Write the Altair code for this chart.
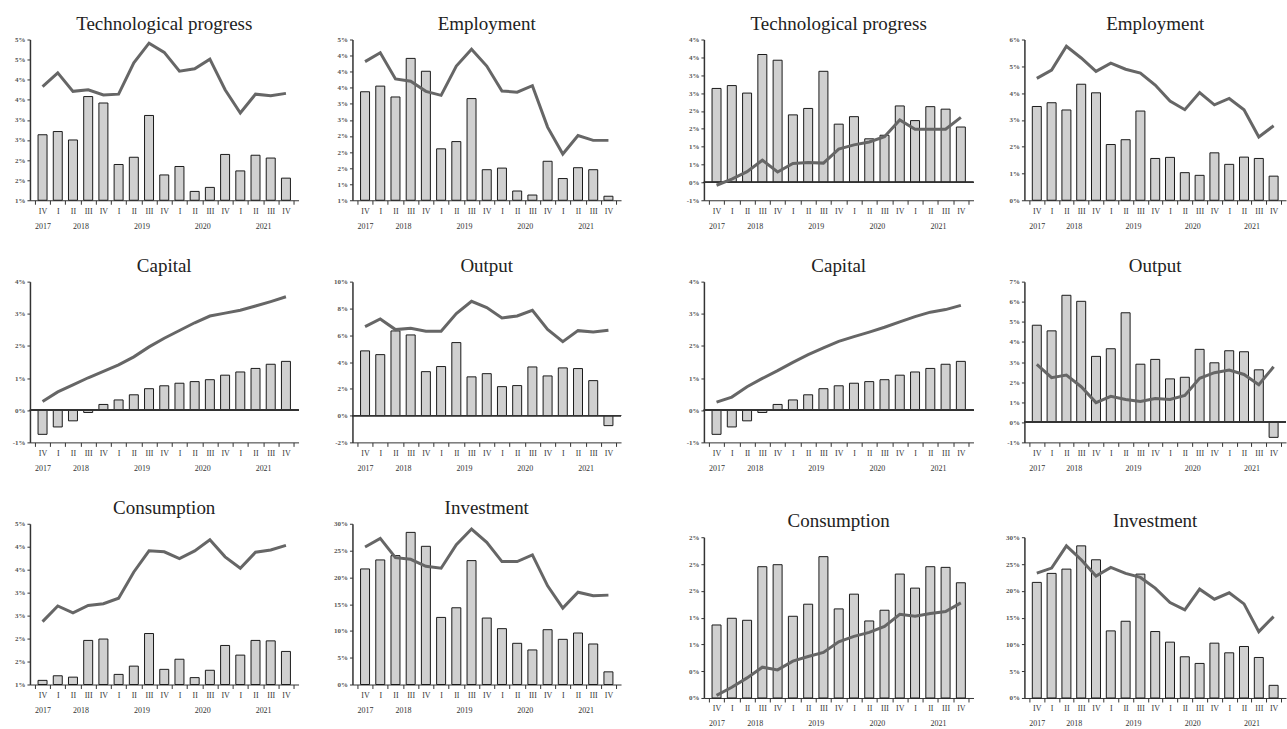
import json
import altair as alt
import pandas as pd

# ---------------- data ----------------
quarters = ["IV", "I", "II", "III", "IV", "I", "II", "III", "IV",
            "I", "II", "III", "IV", "I", "II", "III", "IV"]
years = ["2017"] + ["2018"] * 4 + ["2019"] * 4 + ["2020"] * 4 + ["2021"] * 4

tech_bars = [2.63, 2.71, 2.50, 3.58, 3.42, 1.89, 2.07, 3.11, 1.63, 1.84, 1.22, 1.32, 2.14, 1.73, 2.12, 2.05, 1.55]
tech_line_a = [3.83, 4.17, 3.71, 3.75, 3.62, 3.64, 4.42, 4.91, 4.68, 4.21, 4.27, 4.51, 3.75, 3.17, 3.64, 3.60, 3.66]
tech_line_b = [-0.08, 0.09, 0.30, 0.62, 0.29, 0.53, 0.56, 0.54, 0.93, 1.05, 1.13, 1.28, 1.75, 1.49, 1.49, 1.49, 1.82]

emp_bars = [3.50, 3.64, 3.37, 4.33, 4.01, 2.08, 2.26, 3.33, 1.56, 1.60, 1.03, 0.93, 1.77, 1.34, 1.61, 1.56, 0.90]
emp_line_a = [4.25, 4.47, 3.82, 3.76, 3.51, 3.41, 4.14, 4.56, 4.14, 3.52, 3.49, 3.65, 2.62, 1.95, 2.41, 2.29, 2.29]
emp_line_b = [4.55, 4.86, 5.75, 5.31, 4.81, 5.12, 4.89, 4.75, 4.30, 3.70, 3.38, 4.02, 3.56, 3.80, 3.38, 2.36, 2.78]

cap_bars = [-0.75, -0.52, -0.33, -0.07, 0.18, 0.32, 0.48, 0.67, 0.76, 0.84, 0.89, 0.95, 1.09, 1.19, 1.30, 1.43, 1.52]
cap_line_a = [0.27, 0.57, 0.79, 1.01, 1.21, 1.41, 1.66, 1.97, 2.24, 2.48, 2.72, 2.93, 3.02, 3.11, 3.24, 3.38, 3.53]
cap_line_b = [0.25, 0.41, 0.73, 0.99, 1.23, 1.49, 1.73, 1.94, 2.14, 2.29, 2.43, 2.58, 2.75, 2.91, 3.05, 3.13, 3.26]

out_bars = [4.83, 4.55, 6.32, 6.02, 3.28, 3.66, 5.45, 2.89, 3.13, 2.16, 2.24, 3.63, 2.96, 3.56, 3.51, 2.61, -0.75]
out_line_a = [6.64, 7.21, 6.42, 6.52, 6.29, 6.29, 7.61, 8.53, 8.06, 7.29, 7.44, 7.86, 6.44, 5.52, 6.34, 6.24, 6.37]
out_line_b = [2.88, 2.22, 2.35, 1.77, 0.98, 1.29, 1.13, 1.04, 1.18, 1.14, 1.34, 2.19, 2.47, 2.60, 2.38, 1.87, 2.76]

cons_bars = [1.09, 1.19, 1.16, 1.96, 1.99, 1.22, 1.40, 2.11, 1.33, 1.55, 1.15, 1.31, 1.85, 1.64, 1.96, 1.95, 1.72]
cons_line_a = [2.37, 2.71, 2.56, 2.72, 2.76, 2.88, 3.45, 3.91, 3.89, 3.74, 3.91, 4.15, 3.78, 3.53, 3.88, 3.93, 4.03]
cons_line_b = [0.04, 0.16, 0.30, 0.46, 0.42, 0.55, 0.62, 0.68, 0.84, 0.92, 0.98, 1.07, 1.25, 1.22, 1.26, 1.29, 1.42]

inv_bars = [21.57, 23.25, 24.05, 28.39, 25.79, 12.52, 14.32, 23.12, 12.40, 10.42, 7.69, 6.45, 10.23, 8.43, 9.61, 7.56, 2.36]
inv_line_a = [25.67, 27.28, 23.68, 23.37, 22.07, 21.70, 26.10, 29.01, 26.53, 22.94, 22.94, 24.18, 18.41, 14.26, 17.23, 16.55, 16.68]
inv_line_b = [23.31, 24.25, 28.38, 25.81, 22.75, 24.38, 23.25, 22.50, 20.50, 17.81, 16.44, 20.31, 18.44, 19.63, 17.56, 12.38, 15.19]

# y-axis tick values and their printed labels
tech_a_ticks = [1.0, 1.5, 2.0, 2.5, 3.0, 3.5, 4.0, 4.5, 5.0]
tech_a_labels = ["1%", "2%", "2%", "3%", "3%", "4%", "4%", "5%", "5%"]
tech_b_ticks = [-0.5, 0.0, 0.5, 1.0, 1.5, 2.0, 2.5, 3.0, 3.5, 4.0]
tech_b_labels = ["-1%", "0%", "1%", "1%", "2%", "2%", "3%", "3%", "4%", "4%"]
emp_a_ticks = [0.8, 1.2, 1.6, 2.0, 2.4, 2.8, 3.2, 3.6, 4.0, 4.4, 4.8]
emp_a_labels = ["1%", "1%", "2%", "2%", "2%", "3%", "3%", "4%", "4%", "4%", "5%"]
emp_b_ticks = [0, 1, 2, 3, 4, 5, 6]
emp_b_labels = ["0%", "1%", "2%", "3%", "4%", "5%", "6%"]
cap_ticks = [-1, 0, 1, 2, 3, 4]
cap_labels = ["-1%", "0%", "1%", "2%", "3%", "4%"]
out_a_ticks = [-2, 0, 2, 4, 6, 8, 10]
out_a_labels = ["-2%", "0%", "2%", "4%", "6%", "8%", "10%"]
out_b_ticks = [-1, 0, 1, 2, 3, 4, 5, 6, 7]
out_b_labels = ["-1%", "0%", "1%", "2%", "3%", "4%", "5%", "6%", "7%"]
cons_a_ticks = [1.0, 1.5, 2.0, 2.5, 3.0, 3.5, 4.0, 4.5]
cons_a_labels = ["1%", "2%", "2%", "3%", "3%", "4%", "4%", "5%"]
cons_b_ticks = [0.0, 0.4, 0.8, 1.2, 1.6, 2.0, 2.4]
cons_b_labels = ["0%", "0%", "1%", "1%", "2%", "2%", "2%"]
inv_ticks = [0, 5, 10, 15, 20, 25, 30]
inv_labels = ["0%", "5%", "10%", "15%", "20%", "25%", "30%"]

# ---------------- styling ----------------
SERIF = "Liberation Serif"
BAR_FILL = "#d0d0d0"
BAR_STROKE = "#1a1a1a"
LINE_COLOR = "#666666"
AXIS_COLOR = "#333333"
H = 161

n = len(quarters)
xvals = [k / 2 - 0.5 for k in range(2 * n + 1)]
year_centers = {}
for yv in dict.fromkeys(years):
    idx = [i for i, v in enumerate(years) if v == yv]
    year_centers[sum(idx) / len(idx)] = yv
xlabels = []
for v in xvals:
    qlab = quarters[int(v)] if float(v).is_integer() and 0 <= v < n else ""
    ylab = year_centers.get(v, "")
    xlabels.append([qlab, ylab] if ylab else qlab)

x_axis = alt.Axis(
    values=xvals,
    labelExpr=f"{json.dumps(xlabels)}[indexof({json.dumps(xvals)}, datum.value)]",
    labelOverlap=False, labelFlush=False,
    tickOpacity={"condition": {"test": "datum.value % 1 == 0", "value": 0}, "value": 1},
    tickSize=4, tickColor=AXIS_COLOR, domainColor=AXIS_COLOR, domainWidth=1,
    labelFont=SERIF, labelFontSize=8, labelColor="#333333", labelLineHeight=15,
    labelPadding=3, grid=False, minExtent=32, maxExtent=32,
)
x_scale = alt.Scale(domain=[-0.5, n - 0.5], nice=False, zero=False)


def make_panel(title, bars, line, yticks, ylabels, width):
    df = pd.DataFrame({"q": list(range(n)), "bar": bars, "line": line})
    ymin, ymax = yticks[0], yticks[-1]
    base = 0 if ymin < 0 else ymin
    yscale = alt.Scale(domain=[ymin, ymax], nice=False, zero=False)
    yaxis = alt.Axis(
        values=yticks,
        labelExpr=f"{json.dumps(ylabels)}[indexof({json.dumps(yticks)}, datum.value)]",
        tickSize=3, tickColor=AXIS_COLOR, domainColor=AXIS_COLOR, domainWidth=1.5,
        labelFont=SERIF, labelFontSize=7, labelFontWeight="bold", labelColor="#555555",
        labelPadding=2, grid=False, minExtent=20, maxExtent=20,
    )
    x = alt.X("q:Q", scale=x_scale, axis=x_axis, title=None)
    layers = [
        alt.Chart(df).mark_bar(size=9, fill=BAR_FILL, stroke=BAR_STROKE, strokeWidth=1).encode(
            x=x,
            y=alt.Y("bar:Q", scale=yscale, axis=yaxis, title=None),
            y2=alt.datum(base),
        )
    ]
    if ymin < 0:
        layers.append(
            alt.Chart(df).mark_rule(color=AXIS_COLOR, strokeWidth=1).encode(
                y=alt.YDatum(0, scale=yscale, axis=yaxis, title=None)
            )
        )
    layers.append(
        alt.Chart(df).mark_line(color=LINE_COLOR, strokeWidth=3).encode(
            x=x, y=alt.Y("line:Q", scale=yscale, axis=yaxis, title=None)
        )
    )
    return alt.layer(*layers).properties(
        width=width, height=H,
        title=alt.TitleParams(text=title, font=SERIF, fontSize=19, fontWeight="normal",
                              color="#222222", offset=2, anchor="middle"),
    )


S = 24.5
L1 = alt.vconcat(
    make_panel("Technological progress", tech_bars, tech_line_a, tech_a_ticks, tech_a_labels, 269),
    make_panel("Capital", cap_bars, cap_line_a, cap_ticks, cap_labels, 269),
    make_panel("Consumption", cons_bars, cons_line_a, cons_a_ticks, cons_a_labels, 269),
    spacing=S,
)
L2 = alt.vconcat(
    make_panel("Employment", emp_bars, emp_line_a, emp_a_ticks, emp_a_labels, 269),
    make_panel("Output", out_bars, out_line_a, out_a_ticks, out_a_labels, 269),
    make_panel("Investment", inv_bars, inv_line_a, inv_ticks, inv_labels, 269),
    spacing=S,
)
R1 = alt.vconcat(
    alt.vconcat(
        make_panel("Technological progress", tech_bars, tech_line_b, tech_b_ticks, tech_b_labels, 270),
        make_panel("Capital", cap_bars, cap_line_b, cap_ticks, cap_labels, 270),
        spacing=S,
    ),
    make_panel("Consumption", cons_bars, cons_line_b, cons_b_ticks, cons_b_labels, 270),
    spacing=S + 13,
)
R2 = alt.vconcat(
    alt.vconcat(
        make_panel("Employment", emp_bars, emp_line_b, emp_b_ticks, emp_b_labels, 262),
        make_panel("Output", out_bars, out_line_b, out_b_ticks, out_b_labels, 262),
        spacing=S,
    ),
    make_panel("Investment", inv_bars, inv_line_b, inv_ticks, inv_labels, 262),
    spacing=S + 13,
)

chart = alt.hconcat(
    alt.hconcat(L1, L2, spacing=33),
    alt.hconcat(R1, R2, spacing=30),
    spacing=62,
).properties(
    padding={"left": 10, "top": 14, "right": 0, "bottom": 0},
    background="white",
).configure_view(stroke=None)

chart.save("out.html", embed_options={"renderer": "svg", "actions": False})
